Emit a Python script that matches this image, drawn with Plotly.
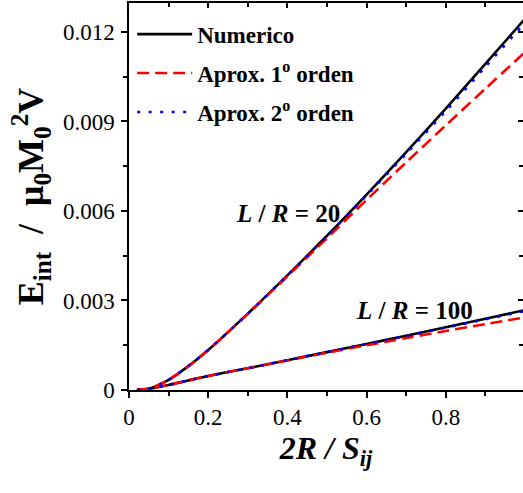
import plotly.graph_objects as go

# 2R/S_ij values where the interaction energy was evaluated
x = [0.02, 0.05, 0.1, 0.15, 0.2, 0.3, 0.4, 0.5, 0.6, 0.7, 0.8, 0.9, 1.0]

# L/R = 20
num_20 = [0, 0.00004, 0.00034, 0.00080, 0.00134, 0.00256, 0.00384, 0.00517,
          0.00655, 0.00797, 0.00943, 0.01093, 0.01244]
ord1_20 = [0, 0.00004, 0.00034, 0.00080, 0.00134, 0.00255, 0.00381, 0.00509,
           0.00637, 0.00763, 0.00887, 0.01010, 0.01132]
ord2_20 = [0, 0.00004, 0.00034, 0.00080, 0.00134, 0.00256, 0.00384, 0.00516,
           0.00652, 0.00792, 0.00935, 0.01083, 0.01231]

# L/R = 100
num_100 = [0, 0.00004, 0.00017, 0.00032, 0.00047, 0.00073, 0.00100, 0.00127,
           0.00154, 0.00182, 0.00210, 0.00239, 0.00268]
ord1_100 = [0, 0.00004, 0.00017, 0.00032, 0.00047, 0.00073, 0.00099, 0.00125,
            0.00150, 0.00174, 0.00198, 0.00221, 0.00243]
ord2_100 = [0, 0.00004, 0.00017, 0.00032, 0.00047, 0.00073, 0.00100, 0.00127,
            0.00154, 0.00181, 0.00209, 0.00237, 0.00265]

names = ["<b>Numerico</b>", "<b>Aprox. 1<sup>o</sup> orden</b>",
         "<b>Aprox. 2<sup>o</sup> orden</b>"]
x_ticks = [0, 0.2, 0.4, 0.6, 0.8, 1.0]
x_ticktext = ["0", "0.2", "0.4", "0.6", "0.8", "1.0"]
y_ticks = [0, 0.003, 0.006, 0.009, 0.012]
y_ticktext = ["0", "0.003", "0.006", "0.009", "0.012"]
curve_labels = ["<b><i>L</i> / <i>R</i> = 20</b>", "<b><i>L</i> / <i>R</i> = 100</b>"]
label_pos = [(0.401, 0.00593), (0.722, 0.00268)]

FONT = "Liberation Serif"
X_RANGE = [0, 0.995]
Y_RANGE = [0, 0.01297]

styles = [
    dict(color="black", width=2.6, dash="solid"),
    dict(color="#ff0000", width=2.6, dash="12px,6px"),
    dict(color="#0000ff", width=2.6, dash="3px,8.5px"),
]

fig = go.Figure()
series = [(num_20, num_100), (ord1_20, ord1_100), (ord2_20, ord2_100)]
for i, (s20, s100) in enumerate(series):
    # the dotted curves sit on the overlay axes so they are drawn on top
    axes = dict(xaxis="x2", yaxis="y2") if i == 2 else {}
    for j, ys in enumerate((s20, s100)):
        fig.add_trace(go.Scatter(
            x=x, y=ys, mode="lines",
            line=dict(shape="spline", smoothing=0.8, **styles[i]),
            name=names[i], legendgroup=f"g{i}", showlegend=(j == 0),
            **axes,
        ))

for text, (ax, ay) in zip(curve_labels, label_pos):
    fig.add_annotation(x=ax, y=ay, text=text, showarrow=False,
                       font=dict(family=FONT, size=25, color="black"))

fig.update_layout(
    width=523, height=493,
    font=dict(family=FONT, size=23, color="black"),
    margin=dict(l=129, r=0, t=3, b=103),
    paper_bgcolor="white", plot_bgcolor="white",
    showlegend=True,
    legend=dict(x=0.008, y=0.975, xanchor="left", yanchor="top",
                font=dict(family=FONT, size=23, color="black"),
                bgcolor="rgba(0,0,0,0)", itemwidth=55, tracegroupgap=6),
    xaxis=dict(range=X_RANGE, tickvals=x_ticks, ticktext=x_ticktext,
               ticks="outside", ticklen=6, tickwidth=1.5, tickcolor="black",
               minor=dict(dtick=0.1, tick0=0, ticks="outside", ticklen=4,
                          tickwidth=1.5, tickcolor="black"),
               showline=True, linewidth=1.5, linecolor="black", mirror=True,
               showgrid=False, zeroline=False,
               tickfont=dict(family=FONT, size=23, color="black"),
               title=dict(text="<b><i>2R / S<sub>ij</sub></i></b>",
                          font=dict(family=FONT, size=32, color="black"),
                          standoff=6)),
    yaxis=dict(range=Y_RANGE, tickvals=y_ticks, ticktext=y_ticktext,
               ticks="outside", ticklen=6, tickwidth=1.5, tickcolor="black",
               minor=dict(dtick=0.0015, tick0=0, ticks="outside", ticklen=4,
                          tickwidth=1.5, tickcolor="black"),
               showline=True, linewidth=1.5, linecolor="black",
               showgrid=False, zeroline=False, ticklabelstandoff=2,
               tickfont=dict(family=FONT, size=23, color="black"),
               title=dict(text="<b>E<sub>int</sub>  /  \u03bc<sub>0</sub>M<sub>0</sub><sup>2</sup>V</b>",
                          font=dict(family=FONT, size=36, color="black"),
                          standoff=8)),
    xaxis2=dict(overlaying="x", side="top", anchor="y2", range=X_RANGE,
                tickvals=x_ticks, ticks="inside", ticklen=5, tickwidth=1.5,
                tickcolor="black",
                minor=dict(dtick=0.1, tick0=0, ticks="inside", ticklen=4,
                           tickwidth=1.5, tickcolor="black"),
                showticklabels=False, showline=False, showgrid=False,
                zeroline=False),
    yaxis2=dict(overlaying="y", side="right", anchor="x2", range=Y_RANGE,
                tickvals=y_ticks, ticks="inside", ticklen=5, tickwidth=1.5,
                tickcolor="black",
                minor=dict(dtick=0.0015, tick0=0, ticks="inside", ticklen=4,
                           tickwidth=1.5, tickcolor="black"),
                showticklabels=False, showline=False, showgrid=False,
                zeroline=False),
)

fig.write_html("out.html")
